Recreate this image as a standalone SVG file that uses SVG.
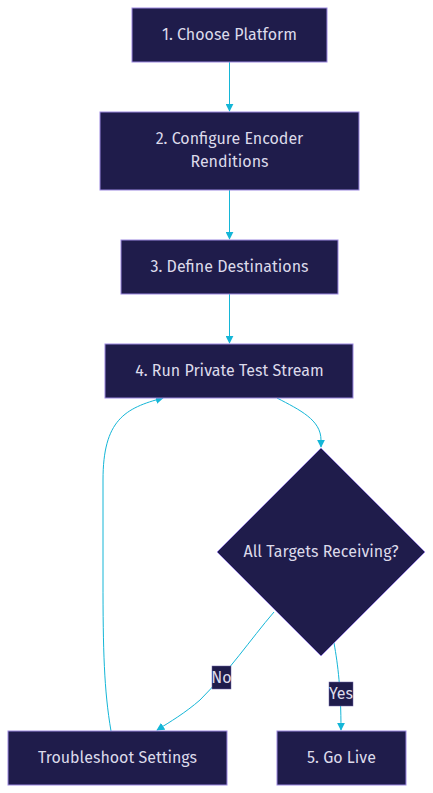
<svg xmlns="http://www.w3.org/2000/svg" width="433" height="793" viewBox="0 0 433 793">
<style>
.node rect, .node polygon { fill: #1f1c4b; stroke: #9b87e0; stroke-width: 1; }
.node text { fill: #dcdaea; font-family: "Fira Sans", Roboto, "Liberation Sans", sans-serif; font-size: 16px; text-anchor: middle; dominant-baseline: central; }
.edge { fill: none; stroke: #14b6d7; stroke-width: 1; marker-end: url(#arrow); }
.lbl rect { fill: #1f1c4b; stroke: #6e63a8; stroke-width: 0.5; }
.lbl text { fill: #dcdaea; font-family: "Fira Sans", Roboto, "Liberation Sans", sans-serif; font-size: 16px; text-anchor: middle; dominant-baseline: central; }
</style>
<defs>
<marker id="arrow" viewBox="0 0 10 10" refX="9" refY="5" markerWidth="8" markerHeight="8" orient="auto-start-reverse" markerUnits="userSpaceOnUse">
<path d="M0,0 L10,5 L0,10 z" fill="#14b6d7"/>
</marker>
</defs>
<rect width="433" height="793" fill="#ffffff"/>
<g id="edges">
<path class="edge" d="M229.5,62 L229.5,111"/>
<path class="edge" d="M229.5,190 L229.5,239"/>
<path class="edge" d="M229.5,294 L229.5,343"/>
<path class="edge" d="M277,398 C300,410 321,420 321,440 L321,447"/>
<path class="edge" d="M274,612 C250,640 230,670 200,700 C185,713 170,722 157,730"/>
<path class="edge" d="M334,643 C338,665 341,690 341,730"/>
<path class="edge" d="M111,731 C104,690 103,650 103,580 L103,480 C103,420 125,408 163,398"/>
</g>
<g id="edge-labels">
<g class="lbl" id="label-no"><rect x="212" y="666" width="19" height="23"/><text x="221.5" y="677">No</text></g>
<g class="lbl" id="label-yes"><rect x="329" y="682" width="24" height="24"/><text x="341" y="693.5">Yes</text></g>
</g>
<g class="node" id="n1"><rect x="132" y="8" width="195" height="54"/><text x="229.5" y="34">1. Choose Platform</text></g>
<g class="node" id="n2"><rect x="100" y="112" width="259" height="78"/><text x="229.5" y="138">2. Configure Encoder</text><text x="229.5" y="161">Renditions</text></g>
<g class="node" id="n3"><rect x="121" y="240" width="217" height="54"/><text x="229.5" y="266">3. Define Destinations</text></g>
<g class="node" id="n4"><rect x="105" y="344" width="248" height="54"/><text x="229.5" y="370">4. Run Private Test Stream</text></g>
<g class="node" id="decision"><polygon points="321,448 425,552 321,656 217,552"/><text x="321" y="551.5">All Targets Receiving?</text></g>
<g class="node" id="troubleshoot"><rect x="8" y="731" width="219" height="54"/><text x="117.5" y="757">Troubleshoot Settings</text></g>
<g class="node" id="golive"><rect x="277" y="731" width="129" height="54"/><text x="341.5" y="757">5. Go Live</text></g>
</svg>
